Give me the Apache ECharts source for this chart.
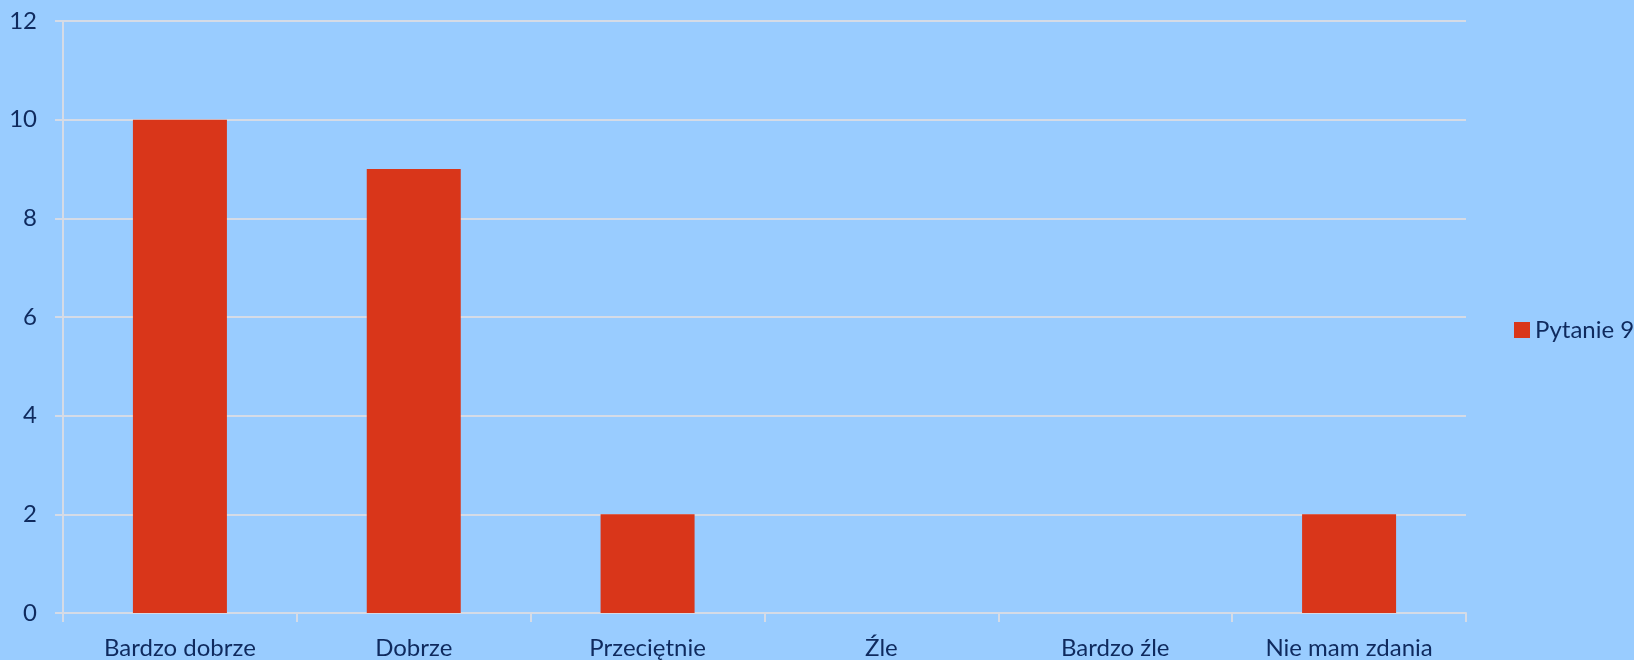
<!DOCTYPE html>
<html>
<head>
<meta charset="utf-8">
<script src="https://cdn.jsdelivr.net/npm/echarts@6/dist/echarts.min.js"></script>
<style>
  html, body { margin: 0; padding: 0; background: #99ccff; }
  #chart { width: 1634px; height: 660px; }
</style>
</head>
<body>
<div id="chart"></div>
<script>
// dane wykresu
const categories = ['Bardzo dobrze', 'Dobrze', 'Przeciętnie', 'Źle', 'Bardzo źle', 'Nie mam zdania'];
const values = [10, 9, 2, 0, 0, 2];
const seriesName = 'Pytanie 9';

const textColor = '#0f2a5e';
const lineColor = '#d5dbe6';
const fontFamily = 'Lato, "Noto Sans", sans-serif';

const chart = echarts.init(document.getElementById('chart'));
chart.setOption({
    backgroundColor: '#99ccff',
    animation: false,
    grid: { left: 63, right: 168, top: 21, bottom: 47 },
    legend: {
        data: [seriesName],
        left: 1509,
        top: 'middle',
        icon: 'rect',
        itemWidth: 16,
        itemHeight: 16,
        itemGap: 6,
        textStyle: { color: textColor, fontSize: 24, fontFamily: fontFamily }
    },
    xAxis: {
        type: 'category',
        data: categories,
        axisLine: { lineStyle: { color: lineColor, width: 2 } },
        axisTick: { show: true, length: 9, lineStyle: { color: lineColor, width: 2 } },
        axisLabel: { color: textColor, fontSize: 24, fontFamily: fontFamily, margin: 23 }
    },
    yAxis: {
        type: 'value',
        min: 0,
        max: 12,
        interval: 2,
        axisLine: { show: true, lineStyle: { color: lineColor, width: 2 } },
        axisTick: { show: true, length: 8, lineStyle: { color: lineColor, width: 2 } },
        axisLabel: { color: textColor, fontSize: 24, fontFamily: fontFamily, margin: 26 },
        splitLine: { lineStyle: { color: lineColor, width: 2 } }
    },
    series: [{
        name: seriesName,
        type: 'bar',
        data: values,
        barWidth: 94,
        itemStyle: { color: '#d9361a' }
    }]
});
</script>
</body>
</html>
